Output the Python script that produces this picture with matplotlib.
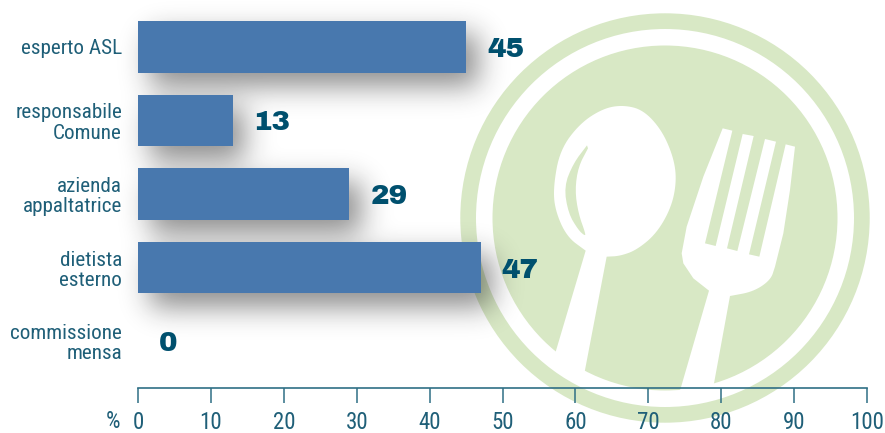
import matplotlib
matplotlib.use('Agg')
import matplotlib.pyplot as plt
from matplotlib.patches import Circle, Polygon
import numpy as np
import logging

logging.getLogger('matplotlib.font_manager').setLevel(logging.ERROR)

# data
categories = ['esperto ASL', 'responsabile\nComune', 'azienda\nappaltatrice', 'dietista\nesterno', 'commissione\nmensa']
values = [45, 13, 29, 47, 0]
x_ticks = [0, 10, 20, 30, 40, 50, 60, 70, 80, 90, 100]

# emblem outlines, traced in zoomed reference coordinates
spoon_bowl = [(437, 752), (380, 710), (345, 630), (340, 560), (360, 450), (420, 370), (490, 325), (550, 315),
              (610, 330), (665, 390), (700, 470), (710, 540), (695, 620), (650, 700), (590, 750), (540, 768), (500, 770)]
spoon_handle = [(500, 770), (435, 1110), (425, 1150), (335, 1090), (348, 1052), (437, 752)]
spoon_hollow = [(441, 436), (400, 490), (372, 560), (385, 640), (415, 690), (434, 707), (437, 702),
                (415, 640), (405, 570), (415, 500), (444, 445)]
fork_tines = [(725, 760), (740, 680), (790, 530), (848, 385), (877, 392),
              (795, 730), (827, 738), (908, 402), (941, 408), (861, 745), (892, 753), (975, 417), (1008, 425), (927, 763),
              (958, 770), (1037, 433), (1065, 440), (1050, 570), (1030, 700), (1005, 800)]
fork_base = [(1005, 800), (992, 840), (940, 875), (870, 888)]
fork_neck = [(807, 872), (760, 835), (730, 790), (725, 760)]
fork_handle = [(870, 888), (822, 1150), (815, 1185), (715, 1185), (722, 1165), (807, 872)]

text_color = '#1f5f78'
value_color = '#00506e'
axis_color = '#2f6f85'
bar_color = '#4878ae'
green = '#d8e8c5'
W, H = 885, 433
narrow = ['Roboto Condensed', 'Archivo Narrow', 'Liberation Sans Narrow', 'Liberation Sans']
heavy = ['Archivo Black', 'DejaVu Sans']


def zoomed(points):
    return [(440 + x / 3, y / 3) for x, y in points]


def smooth(points, rounds=3):
    pts = np.array(points, dtype=float)
    for _ in range(rounds):
        a = pts[:-1] * 0.75 + pts[1:] * 0.25
        b = pts[:-1] * 0.25 + pts[1:] * 0.75
        pts = np.vstack([pts[:1], np.column_stack([a, b]).reshape(-1, 2), pts[-1:]])
    return [tuple(p) for p in pts]


def blur(img, sigma):
    r = int(sigma * 3)
    kernel = np.exp(-0.5 * (np.arange(-r, r + 1) / sigma) ** 2)
    kernel /= kernel.sum()
    img = np.apply_along_axis(lambda row: np.convolve(row, kernel, mode='same'), 0, img)
    return np.apply_along_axis(lambda row: np.convolve(row, kernel, mode='same'), 1, img)


fig = plt.figure(figsize=(W / 100, H / 100), dpi=100, facecolor='white')

# background layer in pixel coordinates: emblem and bar shadows
bg = fig.add_axes([0, 0, 1, 1], zorder=0)
bg.set_xlim(0, W)
bg.set_ylim(H, 0)
bg.axis('off')
center = (665, 218)
bg.add_patch(Circle(center, 204.7, color=green, lw=0))
bg.add_patch(Circle(center, 189, color='white', lw=0))
bg.add_patch(Circle(center, 172.5, color=green, lw=0))
bg.add_patch(Polygon(smooth(zoomed(spoon_bowl)) + zoomed(spoon_handle), closed=True, color='white', lw=0))
bg.add_patch(Polygon(smooth(zoomed(spoon_hollow), 2), closed=True, color=green, lw=0))
bg.add_patch(Polygon(zoomed(fork_neck) + zoomed(fork_tines) + smooth(zoomed(fork_base)) + zoomed(fork_handle),
                     closed=True, color='white', lw=0))

# main chart on top
ax = fig.add_axes([138 / W, 45 / H, (867 - 138) / W, 388 / H], zorder=1)
ax.patch.set_alpha(0)
y = np.arange(len(categories))
bars = ax.barh(y, values, height=0.707, color=bar_color, linewidth=0)
ax.set_xlim(0, 100)
ax.set_ylim(4.639, -0.639)
ax.set_xticks(x_ticks)
ax.set_yticks(y)
ax.set_yticklabels(categories, family=narrow, fontsize=15.2, color=text_color, linespacing=1.08)
ax.tick_params(axis='y', length=0, pad=11.5)
ax.tick_params(axis='x', length=10.8, width=1.1, color=axis_color, pad=5.5,
               labelsize=16.5, labelcolor=text_color)
for lab in ax.get_xticklabels():
    lab.set_family(narrow)
for side in ['top', 'left', 'right']:
    ax.spines[side].set_visible(False)
ax.spines['bottom'].set_color(axis_color)
ax.spines['bottom'].set_linewidth(1.2)

for i, v in enumerate(values):
    ax.annotate(str(v), (v, i), xytext=(15, 0), textcoords='offset points', va='center_baseline', ha='left',
                fontsize=20, family=heavy, color=value_color)
fig.text(120 / W, 1 - 421 / H, '%', ha='right', va='center', family=narrow, fontsize=16.5, color=text_color)

# soft shadows from the drawn bars
fig.canvas.draw()
mask = np.zeros((H, W))
for bar, v in zip(bars, values):
    if v == 0:
        continue
    e = bar.get_window_extent()
    mask[int(H - e.y1) + 14:int(H - e.y0) + 14, int(e.x0) + 12:int(e.x1) + 12] = 1
shadow = np.zeros((H, W, 4))
shadow[..., :3] = 0.1
shadow[..., 3] = blur(mask, 14) * 0.5
bg.imshow(shadow, extent=(0, W, H, 0), aspect='auto', zorder=5, interpolation='nearest')
bg.set_xlim(0, W)
bg.set_ylim(H, 0)

fig.savefig('out.png', dpi=100, facecolor='white')
